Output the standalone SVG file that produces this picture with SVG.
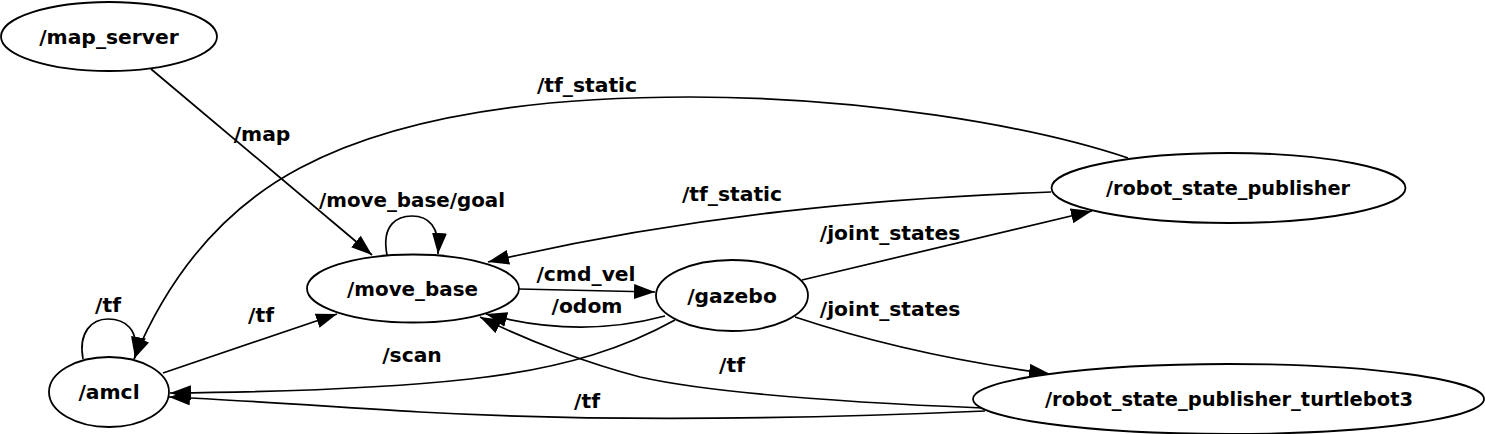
<svg xmlns="http://www.w3.org/2000/svg" width="1485" height="434" viewBox="0 0 1485 434">
<style>
.n ellipse{fill:#fff;stroke:#000;stroke-width:1.8}
text{font-family:"DejaVu Sans","Liberation Sans",sans-serif;font-weight:bold;font-size:20.3px;fill:#000;text-anchor:middle}
.e path{fill:none;stroke:#000;stroke-width:1.7}
</style>
<defs>
<marker id="ah" viewBox="0 0 21 15" refX="21" refY="7.5" markerWidth="21" markerHeight="15" markerUnits="userSpaceOnUse" orient="auto">
<path d="M0,0 L21,7.5 L0,15 z" fill="#000"/>
</marker>
</defs>
<rect width="1485" height="434" fill="#fff"/>
<g id="connectors" class="e">
<path marker-end="url(#ah)" d="M151,69 L372,255"/>
<path marker-end="url(#ah)" d="M1128,158 C1030,125 860,97 690,97 C520,97 390,120 300,168 C215,213 165,285 134,359"/>
<path marker-end="url(#ah)" d="M1051,192 C880,198 690,215 488,262"/>
<path marker-end="url(#ah)" d="M387,255 C381,224 398,216 412,216 C428,216 440,226 438,254"/>
<path marker-end="url(#ah)" d="M519,289 L655,292"/>
<path marker-end="url(#ah)" d="M665,316 C620,328 560,334 486,314"/>
<path marker-end="url(#ah)" d="M802,280 L1092,211"/>
<path marker-end="url(#ah)" d="M795,317 C870,342 960,362 1050,374"/>
<path marker-end="url(#ah)" d="M675,320 C630,345 570,368 470,379 C380,389 280,392 170,393"/>
<path marker-end="url(#ah)" d="M985,411 C800,419 600,422 420,412 C320,406 240,400 169,397"/>
<path marker-end="url(#ah)" d="M983,408 C860,403 720,395 640,377 C590,364 530,342 480,317"/>
<path marker-end="url(#ah)" d="M163,373 L337,314"/>
<path marker-end="url(#ah)" d="M83,359 C78,332 92,319 108,319 C124,319 140,328 135,358"/>
<text x="262" y="141">/map</text>
<text x="587" y="92">/tf_static</text>
<text x="732" y="201">/tf_static</text>
<text x="412" y="207" textLength="186" lengthAdjust="spacingAndGlyphs">/move_base/goal</text>
<text x="586" y="281">/cmd_vel</text>
<text x="587" y="313">/odom</text>
<text x="890" y="240">/joint_states</text>
<text x="890" y="316">/joint_states</text>
<text x="412" y="362">/scan</text>
<text x="587" y="408">/tf</text>
<text x="732" y="372">/tf</text>
<text x="261" y="322">/tf</text>
<text x="108" y="312">/tf</text>
</g>
<g id="map_server" class="n"><ellipse cx="109" cy="36.5" rx="108" ry="34.5"/><text x="109" y="43.5">/map_server</text></g>
<g id="amcl" class="n"><ellipse cx="109" cy="392" rx="60" ry="35"/><text x="109" y="399">/amcl</text></g>
<g id="move_base" class="n"><ellipse cx="413" cy="288.5" rx="106" ry="34"/><text x="412.5" y="295.5" textLength="131" lengthAdjust="spacingAndGlyphs">/move_base</text></g>
<g id="gazebo" class="n"><ellipse cx="732" cy="295.5" rx="76" ry="35.5"/><text x="732" y="302.5">/gazebo</text></g>
<g id="robot_state_publisher" class="n"><ellipse cx="1228.5" cy="188" rx="177" ry="35"/><text x="1228" y="195" textLength="244" lengthAdjust="spacingAndGlyphs">/robot_state_publisher</text></g>
<g id="robot_state_publisher_turtlebot3" class="n"><ellipse cx="1228.5" cy="399" rx="255.5" ry="35"/><text x="1229" y="406" textLength="368" lengthAdjust="spacingAndGlyphs">/robot_state_publisher_turtlebot3</text></g>
</svg>
